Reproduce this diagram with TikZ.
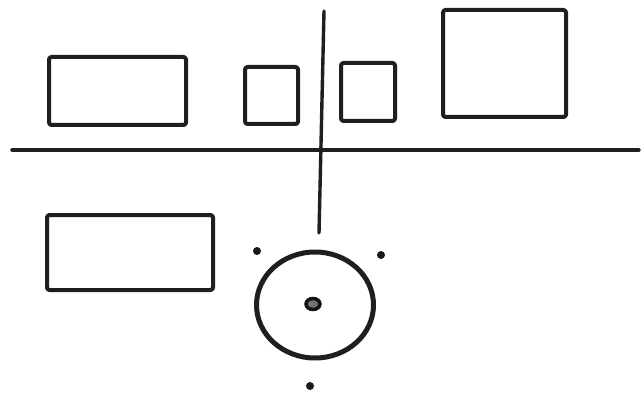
\documentclass[tikz,border=0pt]{standalone}
\usetikzlibrary{shapes.geometric}
\begin{document}
\begin{tikzpicture}[x=1pt,y=-1pt,
  ink/.style={draw=black!88, line cap=round, line join=round},
  box/.style={ink, line width=4pt, rounded corners=2.5pt, inner sep=0pt, fill=none},
  rule/.style={ink, line width=3.4pt},
  spot/.style={circle, fill=black!90, inner sep=0pt, minimum size=8pt}]
\fill[white] (0,0) rectangle (642,398);
\useasboundingbox (0,0) rectangle (642,398);
% top row boxes
\node[box, minimum width=137pt, minimum height=68pt] (r1) at (117.5,91) {};
\node[box, minimum width=53pt, minimum height=57pt] (r2) at (271.5,95.5) {};
\node[box, minimum width=54pt, minimum height=58pt] (r3) at (368,92) {};
\node[box, minimum width=123pt, minimum height=107pt] (r4) at (504.5,63.5) {};
% bottom box
\node[box, minimum width=166pt, minimum height=75pt] (r5) at (130,252.5) {};
% dividing lines
\coordinate (hl) at (12,150);
\coordinate (hr) at (639,150);
\coordinate (vt) at (324,11);
\coordinate (vb) at (319,233);
\draw[rule] (hl) -- (hr);
\draw[rule] (vt) -- (vb);
% circle with centre mark and dots
\node[ink, line width=5pt, ellipse, minimum width=117pt, minimum height=106pt, inner sep=0pt] (c) at (315,305) {};
\node[ellipse, draw=black!92, line width=3.5pt, fill=black!55, minimum width=14pt, minimum height=11pt, inner sep=0pt] (cd) at (313,304) {};
\node[spot] (d1) at (257,251) {};
\node[spot] (d2) at (381,255) {};
\node[spot] (d3) at (310,386) {};
\end{tikzpicture}
\end{document}
